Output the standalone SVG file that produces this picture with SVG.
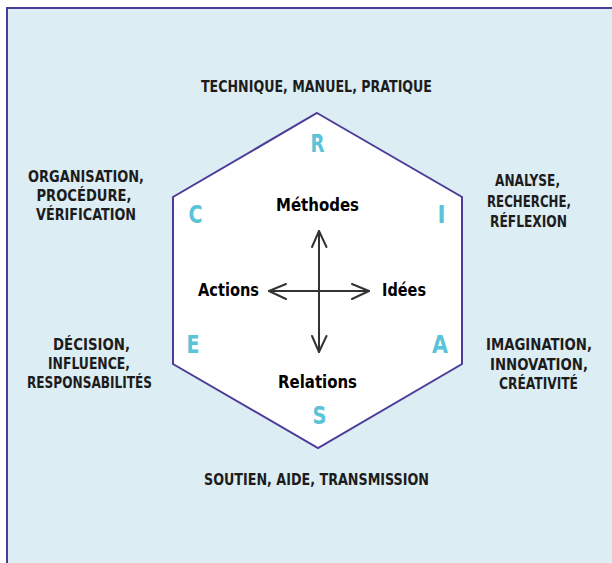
<svg xmlns="http://www.w3.org/2000/svg" width="612" height="563" viewBox="0 0 612 563">
<style>
.lbl{font-family:"DejaVu Sans Condensed","DejaVu Sans",sans-serif;font-weight:bold;font-size:16px;fill:#1c1c1c;text-anchor:middle}
.in{font-family:"DejaVu Sans Condensed","DejaVu Sans",sans-serif;font-weight:bold;font-size:18px;fill:#000;text-anchor:middle}
.let{font-family:"DejaVu Sans Condensed","DejaVu Sans",sans-serif;font-weight:bold;font-size:24px;fill:#5bc3d7;text-anchor:middle}
.arr{stroke:#333;stroke-width:2;fill:none;stroke-linecap:round;stroke-linejoin:round}
</style>
<rect x="0" y="0" width="612" height="563" fill="#ffffff"/>
<rect x="7" y="8" width="620" height="570" fill="#dcedf4" stroke="#4b3c99" stroke-width="2"/>

<g id="hexagon">
<polygon points="317,113 462,197 462,364 318,448 173,364 173,197" fill="#ffffff" stroke="#4b3c99" stroke-width="2"/>
</g>

<g id="letters">
<text class="let" x="317.5" y="152" textLength="14" lengthAdjust="spacingAndGlyphs">R</text>
<text class="let" x="195.5" y="223" textLength="14" lengthAdjust="spacingAndGlyphs">C</text>
<text class="let" x="441.5" y="223">I</text>
<text class="let" x="193" y="353" textLength="13" lengthAdjust="spacingAndGlyphs">E</text>
<text class="let" x="440" y="353" textLength="16" lengthAdjust="spacingAndGlyphs">A</text>
<text class="let" x="319.5" y="424" textLength="14" lengthAdjust="spacingAndGlyphs">S</text>
</g>

<g id="connectors">
<path class="arr" d="M319,231 L319,352"/>
<path class="arr" d="M269,291 L369,291"/>
<path class="arr" d="M312,247 L319,231 L326.5,247"/>
<path class="arr" d="M312,336 L319,352 L326.5,336"/>
<path class="arr" d="M286,284 L269,291 L286,299"/>
<path class="arr" d="M352,284 L369,291 L352,299"/>
</g>

<g id="methodes"><text class="in" x="317.5" y="211" textLength="83" lengthAdjust="spacingAndGlyphs">Méthodes</text></g>
<g id="actions"><text class="in" x="228.5" y="296" textLength="61" lengthAdjust="spacingAndGlyphs">Actions</text></g>
<g id="idees"><text class="in" x="404" y="296" textLength="44" lengthAdjust="spacingAndGlyphs">Idées</text></g>
<g id="relations"><text class="in" x="317.5" y="388" textLength="79" lengthAdjust="spacingAndGlyphs">Relations</text></g>

<g id="label-r"><text class="lbl" x="316.5" y="92" textLength="231" lengthAdjust="spacingAndGlyphs">TECHNIQUE, MANUEL, PRATIQUE</text></g>
<g id="label-s"><text class="lbl" x="316.5" y="485" textLength="225" lengthAdjust="spacingAndGlyphs">SOUTIEN, AIDE, TRANSMISSION</text></g>
<g id="label-c">
<text class="lbl" x="86" y="182" textLength="116" lengthAdjust="spacingAndGlyphs">ORGANISATION,</text>
<text class="lbl" x="84" y="201" textLength="95" lengthAdjust="spacingAndGlyphs">PROCÉDURE,</text>
<text class="lbl" x="86" y="220" textLength="100" lengthAdjust="spacingAndGlyphs">VÉRIFICATION</text>
</g>
<g id="label-e">
<text class="lbl" x="91.5" y="350" textLength="77" lengthAdjust="spacingAndGlyphs">DÉCISION,</text>
<text class="lbl" x="89" y="369" textLength="82" lengthAdjust="spacingAndGlyphs">INFLUENCE,</text>
<text class="lbl" x="89.5" y="388" textLength="125" lengthAdjust="spacingAndGlyphs">RESPONSABILITÉS</text>
</g>
<g id="label-i">
<text class="lbl" x="527.5" y="186" textLength="65" lengthAdjust="spacingAndGlyphs">ANALYSE,</text>
<text class="lbl" x="529" y="207" textLength="84" lengthAdjust="spacingAndGlyphs">RECHERCHE,</text>
<text class="lbl" x="528.5" y="227" textLength="77" lengthAdjust="spacingAndGlyphs">RÉFLEXION</text>
</g>
<g id="label-a">
<text class="lbl" x="539" y="350" textLength="106" lengthAdjust="spacingAndGlyphs">IMAGINATION,</text>
<text class="lbl" x="539" y="370" textLength="98" lengthAdjust="spacingAndGlyphs">INNOVATION,</text>
<text class="lbl" x="538.5" y="389" textLength="79" lengthAdjust="spacingAndGlyphs">CRÉATIVITÉ</text>
</g>
</svg>
